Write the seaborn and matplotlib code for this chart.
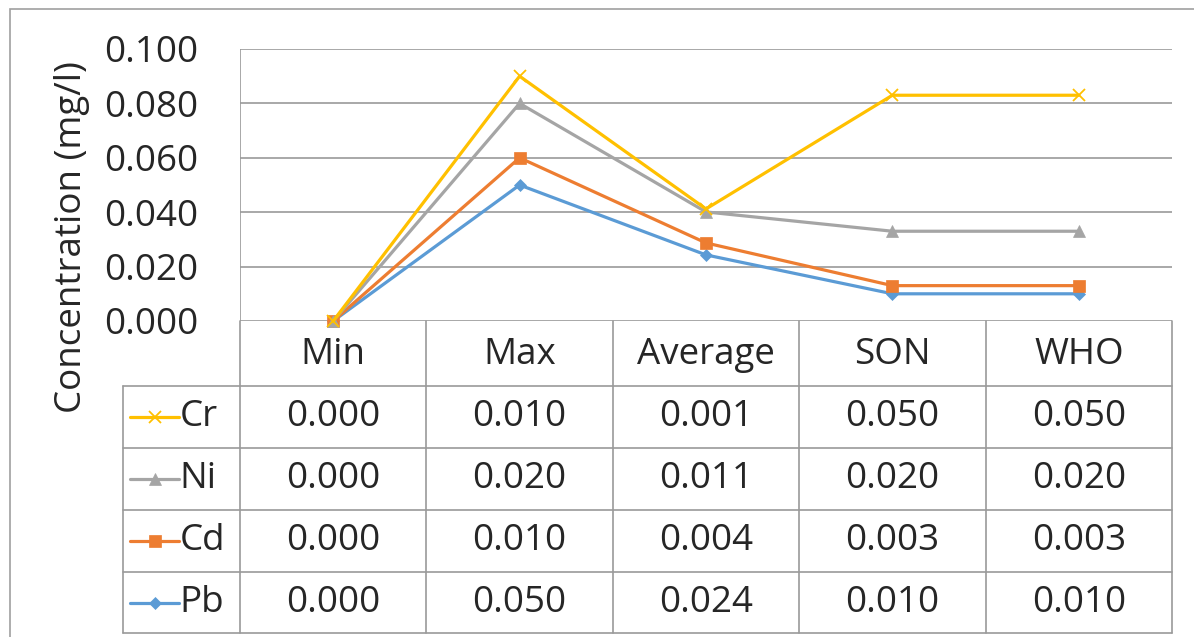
import numpy as np
import pandas as pd
import matplotlib.pyplot as plt
import seaborn as sns
from matplotlib.patches import Rectangle

# Data (values per metal, as in the data table; the chart stacks them)
categories = ['Min', 'Max', 'Average', 'SON', 'WHO']
metals = ['Cr', 'Ni', 'Cd', 'Pb']
cr = [0.000, 0.010, 0.0011, 0.050, 0.050]
ni = [0.000, 0.020, 0.0114, 0.020, 0.020]
cd = [0.000, 0.010, 0.0044, 0.003, 0.003]
pb = [0.000, 0.050, 0.0243, 0.010, 0.010]
yticks = [0.0, 0.02, 0.04, 0.06, 0.08, 0.10]

colors = {'Cr': '#FFC000', 'Ni': '#A5A5A5', 'Cd': '#ED7D31', 'Pb': '#5B9BD5'}
markers = {'Cr': 'x', 'Ni': '^', 'Cd': 's', 'Pb': 'D'}
msizes = {'Cr': 9, 'Ni': 8, 'Cd': 8, 'Pb': 6}

df = pd.DataFrame({'Cr': cr, 'Ni': ni, 'Cd': cd, 'Pb': pb}, index=categories)
# stacked line chart: Pb at bottom, then Cd, Ni, Cr
stack = df[['Pb', 'Cd', 'Ni', 'Cr']].cumsum(axis=1)

sns.set_style('white')
plt.rcParams['font.family'] = ['Open Sans', 'DejaVu Sans']
FS = 26.5

W, H = 1194, 637
fig = plt.figure(figsize=(W / 100, H / 100), dpi=100)

def box(l, t, r, b):
    return [l / W, 1 - b / H, (r - l) / W, (b - t) / H]

grid_c = '#9a9a9a'

ax = fig.add_axes(box(240, 49, 1172, 321))
x = np.arange(len(categories))
for m in ['Pb', 'Cd', 'Ni', 'Cr']:
    sns.lineplot(x=x, y=stack[m].values, ax=ax, color=colors[m], linewidth=2.3,
                 marker=markers[m], markersize=msizes[m], markeredgecolor=colors[m],
                 markeredgewidth=1.3 if m == 'Cr' else 0.5, clip_on=False, zorder=3)
ax.set_xlim(-0.5, len(categories) - 0.5)
ax.set_ylim(0, 0.1)
ax.set_yticks(yticks)
ax.set_yticklabels([f'{v:.3f}' for v in yticks], fontsize=FS)
ax.tick_params(axis='y', length=0, pad=30)
ax.set_xticks([])
ax.set_xlabel('')
ax.set_ylabel('')
for v in yticks:
    ax.axhline(v, color=grid_c, lw=1.2, zorder=1)
for s in ax.spines.values():
    s.set_visible(False)
ax.axvline(-0.5, ymin=0, ymax=1, color=grid_c, lw=1.2, zorder=1)

fig.text(72 / W, 1 - 237 / H, 'Concentration (mg/l)', rotation=90,
         ha='center', va='center', fontsize=FS)

# data table below the chart (y in pixel rows, top = 321)
tab = fig.add_axes(box(240, 321, 1172, 633), sharex=ax)
tab.set_ylim(633, 321)
tab.axis('off')
row_edges = [321, 386, 448, 510, 572, 633]
leg_left = -0.5 - 117 / 186.4
for r in row_edges[1:]:
    tab.plot([leg_left, 4.5], [r, r], color=grid_c, lw=1.2, clip_on=False)
for i in range(len(categories) + 1):
    tab.plot([i - 0.5, i - 0.5], [321, 633], color=grid_c, lw=1.2, clip_on=False)
tab.plot([leg_left, leg_left], [386, 633], color=grid_c, lw=1.2, clip_on=False)

for i, c in enumerate(categories):
    tab.text(i, 355, c, ha='center', va='center', fontsize=FS)
for j, m in enumerate(metals):
    yrow = (row_edges[j + 1] + row_edges[j + 2]) / 2
    for i, v in enumerate(df[m].values):
        tab.text(i, yrow, f'{v:.3f}', ha='center', va='center', fontsize=FS)
    # legend key
    lx0, lx1 = leg_left + 0.04, leg_left + 0.3
    tab.plot([lx0, lx1], [yrow, yrow], color=colors[m], lw=2.3, clip_on=False)
    tab.plot([(lx0 + lx1) / 2], [yrow], marker=markers[m], color=colors[m],
             markersize=msizes[m], markeredgewidth=1.3 if m == 'Cr' else 0.5,
             clip_on=False)
    tab.text(lx1 + 0.005, yrow, m, ha='left', va='center', fontsize=FS)

# outer chart border
fig.patches.append(Rectangle((10 / W, -0.1), 1.2, 1 - 9 / H + 0.1,
                             transform=fig.transFigure, fill=False,
                             edgecolor='#a0a0a0', lw=1.2))

fig.savefig('out.png', dpi=100)
